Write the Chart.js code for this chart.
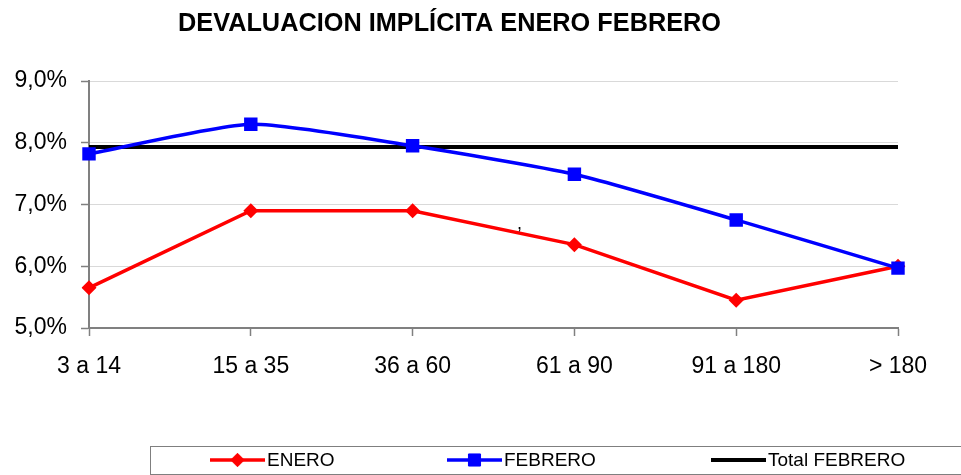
<!DOCTYPE html>
<html>
<head>
<meta charset="utf-8">
<script src="https://cdn.jsdelivr.net/npm/chart.js@4/dist/chart.umd.min.js"></script>
<style>
  html, body { margin: 0; padding: 0; background: #ffffff; }
  #wrap { width: 961px; height: 475px; position: relative; }
</style>
</head>
<body>
<div id="wrap"><canvas id="c" width="961" height="475"></canvas></div>
<script>
// Plazos (días)
const categories = ['3 a 14', '15 a 35', '36 a 60', '61 a 90', '91 a 180', '> 180'];
// Devaluación implícita, en %
const enero = [5.65, 6.9, 6.9, 6.35, 5.45, 6.0];
const febrero = [7.82, 8.3, 7.95, 7.49, 6.75, 5.97];
const totalFebrero = [7.93, 7.93, 7.93, 7.93, 7.93, 7.93];
const yTicks = [5, 6, 7, 8, 9];

const titleText = 'DEVALUACION IMPLÍCITA ENERO FEBRERO';
const FONT = '"Liberation Sans", Arial, sans-serif';

const fmtPct = v => v.toFixed(1).replace('.', ',') + '%';

// Title, stretched to the width of the chart header
const titlePlugin = {
  id: 'titleDraw',
  afterDraw(chart) {
    const ctx = chart.ctx;
    ctx.save();
    ctx.font = 'bold 25px ' + FONT;
    ctx.fillStyle = '#000';
    ctx.textBaseline = 'alphabetic';
    ctx.textAlign = 'left';
    const w = ctx.measureText(titleText).width;
    const target = 543;
    const left = 178;
    ctx.translate(left, 31);
    ctx.scale(target / w, 1);
    ctx.fillText(titleText, 0, 0);
    ctx.restore();
  }
};

// Stray comma printed inside the plot
const strayMark = { text: ',', index: 2.66, value: 6.6 };
const strayPlugin = {
  id: 'stray',
  afterDatasetsDraw(chart) {
    const ctx = chart.ctx;
    const x = chart.scales.x.getPixelForValue(strayMark.index);
    const y = chart.scales.y.getPixelForValue(strayMark.value);
    ctx.save();
    ctx.font = '18px ' + FONT;
    ctx.fillStyle = '#000';
    ctx.textAlign = 'center';
    ctx.fillText(strayMark.text, x, y);
    ctx.restore();
  }
};

// Boxed legend along the bottom
const legendPlugin = {
  id: 'boxLegend',
  afterDraw(chart) {
    const ctx = chart.ctx;
    ctx.save();
    ctx.strokeStyle = '#7f7f7f';
    ctx.lineWidth = 1;
    ctx.strokeRect(150.5, 446.5, 812, 28);
    const items = [
      { ds: 0, x0: 210 },
      { ds: 1, x0: 447 },
      { ds: 2, x0: 711 }
    ];
    const yMid = 460;
    items.forEach(it => {
      const ds = chart.data.datasets[it.ds];
      ctx.strokeStyle = ds.borderColor;
      ctx.lineWidth = ds.borderWidth;
      ctx.beginPath();
      ctx.moveTo(it.x0, yMid);
      ctx.lineTo(it.x0 + 55, yMid);
      ctx.stroke();
      if (ds.pointStyle && ds.pointRadius > 0) {
        ctx.fillStyle = ds.backgroundColor;
        ctx.strokeStyle = ds.borderColor;
        ctx.lineWidth = 1;
        Chart.helpers.drawPoint(ctx, {
          pointStyle: ds.pointStyle,
          radius: ds.pointRadius * 0.9,
          borderWidth: 1,
          rotation: 0
        }, it.x0 + 27.5, yMid);
      }
      ctx.fillStyle = '#000';
      ctx.font = '19px ' + FONT;
      ctx.textBaseline = 'middle';
      ctx.textAlign = 'left';
      ctx.fillText(ds.label, it.x0 + 57, yMid + 1);
    });
    ctx.restore();
  }
};

new Chart(document.getElementById('c'), {
  type: 'line',
  data: {
    labels: categories,
    datasets: [
      {
        label: 'ENERO',
        data: enero,
        borderColor: '#ff0000',
        backgroundColor: '#ff0000',
        borderWidth: 3.5,
        pointStyle: 'rectRot',
        pointRadius: 7.5,
        pointBorderWidth: 0,
        tension: 0,
        order: 1
      },
      {
        label: 'FEBRERO',
        data: febrero,
        borderColor: '#0000ff',
        backgroundColor: '#0000ff',
        borderWidth: 3.5,
        pointStyle: 'rect',
        pointRadius: 9.5,
        pointBorderWidth: 0,
        tension: 0.2,
        order: 0
      },
      {
        label: 'Total FEBRERO',
        data: totalFebrero,
        borderColor: '#000000',
        backgroundColor: '#000000',
        borderWidth: 4,
        pointRadius: 0,
        pointStyle: false,
        tension: 0,
        order: 2
      }
    ]
  },
  options: {
    responsive: false,
    animation: false,
    devicePixelRatio: 1,
    layout: { padding: { left: 0, right: 63, top: 81, bottom: 87 } },
    plugins: {
      legend: { display: false },
      title: { display: false },
      tooltip: { enabled: false }
    },
    scales: {
      x: {
        type: 'category',
        offset: false,
        afterFit(scale) { scale.height = 60; },
        grid: {
          drawOnChartArea: false,
          drawTicks: true,
          tickLength: 8,
          tickColor: '#808080',
          tickWidth: 1.5
        },
        border: { color: '#808080', width: 2 },
        ticks: {
          color: '#000',
          font: { family: FONT, size: 23 },
          padding: 17,
          maxRotation: 0,
          autoSkip: false
        }
      },
      y: {
        min: 5,
        max: 9,
        afterFit(scale) { scale.width = 89; },
        afterBuildTicks(scale) { scale.ticks = yTicks.map(v => ({ value: v })); },
        grid: {
          color: '#d9d9d9',
          lineWidth: 1,
          tickLength: 8,
          tickColor: '#808080',
          tickWidth: 1.5
        },
        border: { color: '#808080', width: 2 },
        ticks: {
          color: '#000',
          font: { family: FONT, size: 23 },
          padding: 14,
          callback: v => fmtPct(v)
        }
      }
    }
  },
  plugins: [titlePlugin, strayPlugin, legendPlugin]
});
</script>
</body>
</html>
